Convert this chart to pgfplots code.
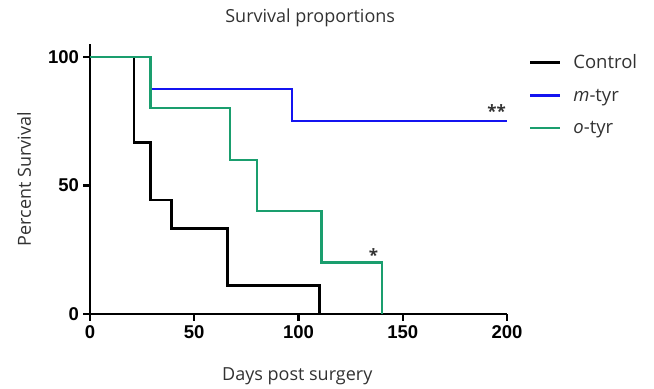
\documentclass[border=0pt]{standalone}
\usepackage{pgfplots}
\pgfplotsset{compat=1.18}
\usepackage{graphicx}
\usepackage{fontspec}
\setmainfont{Open Sans}
\newfontfamily\tickfont{Liberation Sans}
\definecolor{mtyr}{RGB}{20,20,240}
\definecolor{otyr}{RGB}{26,158,110}
\definecolor{txt}{RGB}{50,50,50}
\begin{document}
\begin{tikzpicture}
\useasboundingbox (-90bp,-75bp) rectangle (564bp,314bp);
\begin{axis}[
  at={(0,0)}, anchor=south west,
  scale only axis, width=417bp, height=270bp,
  xmin=0, xmax=200, ymin=0, ymax=105,
  axis x line=bottom, axis y line=left,
  axis line style={line width=2.4bp, -},
  every outer x axis line/.append style={line width=2.4bp, -},
  every outer y axis line/.append style={line width=2.4bp, -},
  xtick={0,50,100,150,200}, ytick={0,50,100},
  every tick/.style={line width=2.2bp, black},
  major tick style={line width=2.2bp, black},
  tick align=outside, major tick length=6.5bp,
  /pgf/number format/assume math mode=true,
  tick label style={font=\tickfont\bfseries\fontsize{18.5bp}{18.5bp}\selectfont, black},
  xticklabel style={yshift=-2bp},
  yticklabel style={xshift=-1bp},
  clip=false,
  title={Survival proportions},
  every axis title/.style={font=\fontsize{18bp}{21bp}\selectfont, text=txt, at={(axis description cs:0.528,1.096)}, anchor=center},
  xlabel={Days post surgery},
  every axis x label/.style={font=\fontsize{18bp}{21bp}\selectfont, text=txt, at={(axis description cs:0.497,-0.23)}, anchor=center},
  ylabel={Percent Survival},
  every axis y label/.style={font=\fontsize{18bp}{21bp}\selectfont, text=txt, at={(axis description cs:-0.158,0.5)}, anchor=center, rotate=90},
  legend style={at={(axis description cs:1.052,0.968)}, anchor=north west, draw=none, fill=none,
    font=\fontsize{18.5bp}{21bp}\selectfont, text=txt, row sep=14.5bp, column sep=10bp, inner sep=0pt},
  legend cell align=left,
  legend image code/.code={\draw[#1, line width=2.5bp] (0bp,0bp) -- (30bp,0bp);},
]
\addplot[const plot, black, line width=2.5bp] coordinates {(0,100) (21,66.7) (29,44.4) (39,33.3) (66,11.1) (110,0)};
\addlegendentry{Control}
\addplot[const plot, mtyr, line width=2bp] coordinates {(0,100) (29,87.5) (97,75) (200,75)};
\addlegendentry{\textit{m}-tyr}
\addplot[const plot, otyr, line width=2.3bp] coordinates {(0,100) (29,80) (67,60) (80,40) (111,20) (140,0)};
\addlegendentry{\textit{o}-tyr}
\node[font=\fontsize{17bp}{17bp}\selectfont\bfseries, text=txt] at (axis cs:195,79) {**};
\node[font=\fontsize{17bp}{17bp}\selectfont\bfseries, text=txt] at (axis cs:136,23) {*};
\end{axis}
\end{tikzpicture}
\end{document}
